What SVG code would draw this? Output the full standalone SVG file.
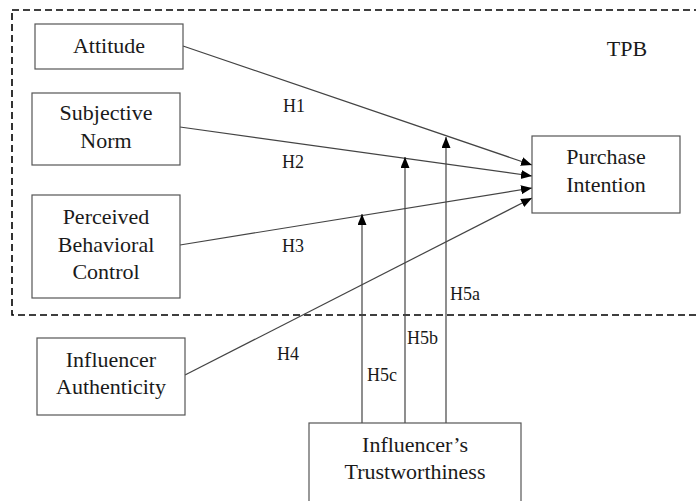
<svg xmlns="http://www.w3.org/2000/svg" width="696" height="501" viewBox="0 0 696 501">
<style>
.box{fill:#fff;stroke:#555;stroke-width:1.2}
.t{font-family:"Liberation Serif","Times New Roman","DejaVu Serif",serif;font-size:22px;fill:#1a1a1a;text-anchor:middle}
.l{font-family:"Liberation Serif","Times New Roman","DejaVu Serif",serif;font-size:18px;fill:#1a1a1a}
.c{stroke:#444;stroke-width:1.2;fill:none;marker-end:url(#ah)}
</style>
<defs>
<marker id="ah" markerUnits="userSpaceOnUse" markerWidth="12" markerHeight="10" refX="11" refY="4.5" orient="auto">
<path d="M0,0 L11,4.5 L0,9 z" fill="#000"/>
</marker>
</defs>
<rect x="12" y="10" width="690" height="305" fill="none" stroke="#000" stroke-width="1.6" stroke-dasharray="7,4"/>
<text class="t" x="627" y="56">TPB</text>
<g id="connectors">
<line class="c" x1="183" y1="46" x2="532" y2="165"/>
<line class="c" x1="180" y1="127" x2="532" y2="176"/>
<line class="c" x1="180" y1="245" x2="532" y2="188"/>
<line class="c" x1="185" y1="375" x2="532" y2="198"/>
<line class="c" x1="446" y1="423" x2="446" y2="137"/>
<line class="c" x1="405" y1="423" x2="405" y2="157"/>
<line class="c" x1="362" y1="423" x2="362" y2="214"/>
<text class="l" x="283" y="112">H1</text>
<text class="l" x="282" y="168">H2</text>
<text class="l" x="282" y="252">H3</text>
<text class="l" x="277" y="360">H4</text>
<text class="l" x="450" y="300">H5a</text>
<text class="l" x="407" y="344">H5b</text>
<text class="l" x="367" y="381">H5c</text>
</g>
<g id="attitude">
<rect class="box" x="35" y="24" width="148" height="45"/>
<text class="t" x="109" y="53">Attitude</text>
</g>
<g id="subjective-norm">
<rect class="box" x="32" y="93" width="148" height="72"/>
<text class="t" x="106" y="120">Subjective</text>
<text class="t" x="106" y="148">Norm</text>
</g>
<g id="pbc">
<rect class="box" x="32" y="195" width="148" height="103"/>
<text class="t" x="106" y="224">Perceived</text>
<text class="t" x="106" y="252">Behavioral</text>
<text class="t" x="106" y="279">Control</text>
</g>
<g id="purchase-intention">
<rect class="box" x="532" y="136" width="148" height="77"/>
<text class="t" x="606" y="164">Purchase</text>
<text class="t" x="606" y="192">Intention</text>
</g>
<g id="influencer-authenticity">
<rect class="box" x="37" y="338" width="148" height="77"/>
<text class="t" x="111" y="367">Influencer</text>
<text class="t" x="111" y="394">Authenticity</text>
</g>
<g id="trustworthiness">
<rect class="box" x="309" y="423" width="212" height="90"/>
<text class="t" x="415" y="452">Influencer’s</text>
<text class="t" x="415" y="479">Trustworthiness</text>
</g>
</svg>
